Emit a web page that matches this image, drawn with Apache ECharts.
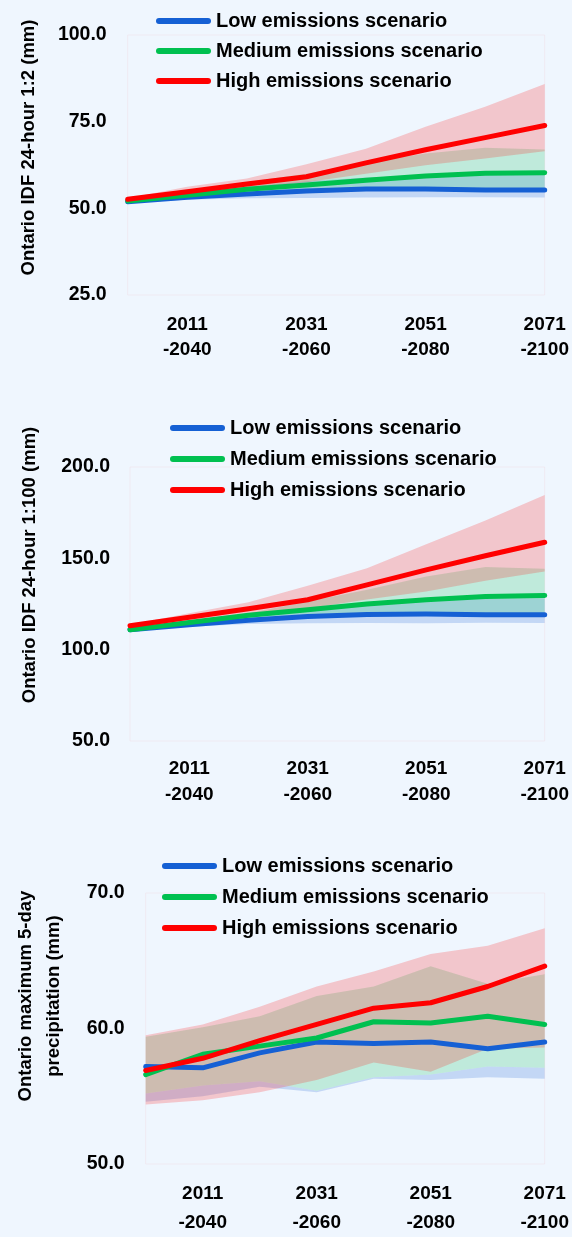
<!DOCTYPE html>
<html>
<head>
<meta charset="utf-8">
<title>Ontario precipitation projections</title>
<script src="https://cdn.jsdelivr.net/npm/echarts@6/dist/echarts.min.js"></script>
<style>
  html, body { margin: 0; padding: 0; background: #eff6fe; }
  .panel { position: absolute; left: 0; width: 572px; }
  #idf2 { top: 0; height: 400px; }
  #idf100 { top: 400px; height: 420px; }
  #max5 { top: 820px; height: 417px; }
</style>
</head>
<body>
<div id="idf2" class="panel"></div>
<div id="idf100" class="panel"></div>
<div id="max5" class="panel"></div>
<script>
// 30-year projection windows
const periods = ['2001-2030', '2011-2040', '2021-2050', '2031-2060',
                 '2041-2070', '2051-2080', '2061-2090', '2071-2100'];
const scenarios = ['Low emissions scenario', 'Medium emissions scenario', 'High emissions scenario'];

// IDF 24-hour 1:2 (mm)
const idf2Low     = [51.9, 53.2, 54.1, 55.0, 55.6, 55.6, 55.3, 55.3];
const idf2LowMin  = [51.6, 52.5, 52.9, 53.0, 53.1, 53.2, 53.2, 53.1];
const idf2LowMax  = [52.3, 54.4, 56.2, 57.8, 58.9, 59.4, 59.6, 59.6];
const idf2Med     = [52.1, 53.8, 55.5, 56.7, 58.1, 59.3, 60.1, 60.3];
const idf2MedMin  = [51.8, 53.0, 54.3, 55.1, 55.5, 55.7, 55.7, 55.7];
const idf2MedMax  = [52.4, 55.0, 57.6, 60.0, 63.3, 65.8, 67.5, 67.0];
const idf2High    = [52.6, 54.8, 57.0, 59.1, 63.1, 66.9, 70.4, 73.9];
const idf2HighMin = [52.0, 53.9, 55.7, 57.5, 60.0, 62.4, 64.4, 66.5];
const idf2HighMax = [52.9, 56.2, 58.6, 62.7, 67.2, 73.5, 79.3, 85.9];
const idf2Ticks   = [25, 100, 25];

// IDF 24-hour 1:100 (mm)
const idf100Low     = [110.9, 113.7, 116.1, 118.2, 119.3, 119.5, 119.1, 119.1];
const idf100LowMin  = [110.3, 112.6, 114.0, 114.4, 114.6, 114.4, 114.8, 114.6];
const idf100LowMax  = [111.5, 114.8, 118.5, 122.5, 125.5, 127.5, 128.0, 128.2];
const idf100Med     = [110.9, 114.9, 118.8, 121.9, 125.0, 127.3, 129.1, 129.7];
const idf100MedMin  = [110.5, 113.3, 115.5, 117.2, 118.4, 118.8, 118.8, 118.8];
const idf100MedMax  = [111.5, 116.0, 120.0, 126.4, 132.8, 140.1, 145.2, 144.3];
const idf100High    = [113.1, 117.7, 122.4, 127.3, 135.5, 143.7, 151.4, 158.8];
const idf100HighMin = [112.5, 115.5, 118.5, 122.5, 127.5, 131.9, 137.7, 142.8];
const idf100HighMax = [113.6, 120.0, 125.9, 135.0, 144.6, 157.7, 170.7, 184.7];
const idf100Ticks   = [50, 200, 50];

// Maximum 5-day precipitation (mm)
const max5Low     = [57.2, 57.1, 58.2, 59.0, 58.9, 59.0, 58.5, 59.0];
const max5LowMin  = [54.6, 55.0, 55.7, 55.3, 56.3, 56.2, 56.4, 56.3];
const max5LowMax  = [55.2, 55.8, 56.1, 55.4, 56.4, 56.6, 57.2, 57.1];
const max5Med     = [56.6, 58.1, 58.7, 59.3, 60.5, 60.4, 60.9, 60.3];
const max5MedMin  = [55.2, 55.8, 56.1, 55.4, 56.4, 56.6, 57.2, 57.1];
const max5MedMax  = [59.4, 60.1, 60.9, 62.4, 63.1, 64.6, 63.3, 64.0];
const max5High    = [56.9, 57.8, 59.1, 60.3, 61.5, 61.9, 63.1, 64.6];
const max5HighMin = [54.4, 54.7, 55.3, 56.2, 57.5, 56.8, 58.5, 58.6];
const max5HighMax = [59.5, 60.3, 61.6, 63.1, 64.2, 65.5, 66.1, 67.4];
const max5Ticks   = [50, 70, 10];

const lineColors = ['#1560d4', '#00c050', '#ff0000'];
const bandColors = ['rgba(21,96,212,0.2)', 'rgba(0,192,80,0.2)', 'rgba(255,20,20,0.21)'];
const FONT = '"Liberation Sans", Arial, sans-serif';
const pill = 'path://M3,0 L52,0 A3,3 0 0 1 52,6 L3,6 A3,3 0 0 1 3,0 Z';

function buildOption(cfg) {
  const series = [];
  // uncertainty ranges: invisible base plus stacked range
  cfg.bands.forEach(function (b, k) {
    const stackId = 'range' + k;
    series.push({
      name: 'range-base-' + k, type: 'line', stack: stackId, data: b[0],
      symbol: 'none', lineStyle: { width: 0, opacity: 0 }, silent: true, z: 1
    });
    series.push({
      name: 'range-' + k, type: 'line', stack: stackId,
      data: b[1].map(function (v, i) { return +(v - b[0][i]).toFixed(2); }),
      symbol: 'none', lineStyle: { width: 0, opacity: 0 },
      areaStyle: { color: bandColors[k], opacity: 1 }, silent: true, z: 1
    });
  });
  cfg.lines.forEach(function (d, k) {
    series.push({
      name: scenarios[k], type: 'line', data: d, symbol: 'none',
      color: lineColors[k],
      lineStyle: { width: 5, color: lineColors[k], cap: 'round', join: 'round' },
      z: 5 + k
    });
  });
  return {
    animation: false,
    backgroundColor: 'transparent',
    grid: Object.assign({ show: true, borderColor: 'rgba(255,0,0,0.05)', borderWidth: 1,
                          backgroundColor: 'transparent' }, cfg.grid),
    legend: {
      data: scenarios, orient: 'vertical', left: cfg.legend.left, top: cfg.legend.top,
      padding: 0, icon: pill, itemWidth: 55, itemHeight: 6, itemGap: cfg.legend.gap,
      selectedMode: false,
      textStyle: { fontFamily: FONT, fontWeight: 'bold', fontSize: 20, color: '#000', lineHeight: 20 }
    },
    xAxis: {
      type: 'category', data: periods, boundaryGap: false,
      axisLine: { show: false }, axisTick: { show: false }, splitLine: { show: false },
      axisLabel: {
        interval: function (i) { return i % 2 === 1; },
        formatter: function (v) { return v.replace('-', '\n-'); },
        fontFamily: FONT, fontWeight: 'bold', fontSize: 19, color: '#000',
        lineHeight: cfg.xLineHeight, margin: cfg.xMargin
      }
    },
    yAxis: {
      type: 'value', min: cfg.ticks[0], max: cfg.ticks[1], interval: cfg.ticks[2],
      axisLine: { show: false }, axisTick: { show: false }, splitLine: { show: false },
      axisLabel: {
        formatter: function (v) { return v.toFixed(1); },
        fontFamily: FONT, fontWeight: 'bold', fontSize: 19.5, color: '#000', margin: cfg.yMargin
      }
    },
    graphic: cfg.names.map(function (n) {
      return {
        type: 'text', x: n.x, y: n.y, rotation: Math.PI / 2,
        style: { text: n.text, fontFamily: FONT, fontWeight: 'bold', fontSize: 18.5,
                 fill: '#000', align: 'center', verticalAlign: 'middle' }
      };
    }),
    series: series
  };
}

const panels = [
  {
    el: 'idf2',
    grid: { left: 127.7, right: 24.3, top: 35, bottom: 105 },
    legend: { left: 156, top: 11, gap: 10 },
    ticks: idf2Ticks, yMargin: 21, xMargin: 17, xLineHeight: 25,
    names: [{ text: 'Ontario IDF 24-hour 1:2 (mm)', x: 29, y: 147.5 }],
    lines: [idf2Low, idf2Med, idf2High],
    bands: [[idf2LowMin, idf2LowMax], [idf2MedMin, idf2MedMax], [idf2HighMin, idf2HighMax]]
  },
  {
    el: 'idf100',
    grid: { left: 130, right: 24.3, top: 67, bottom: 79 },
    legend: { left: 170, top: 18, gap: 11 },
    ticks: idf100Ticks, yMargin: 20, xMargin: 15, xLineHeight: 26,
    names: [{ text: 'Ontario IDF 24-hour 1:100 (mm)', x: 30, y: 165 }],
    lines: [idf100Low, idf100Med, idf100High],
    bands: [[idf100LowMin, idf100LowMax], [idf100MedMin, idf100MedMax], [idf100HighMin, idf100HighMax]]
  },
  {
    el: 'max5',
    grid: { left: 145.7, right: 24.3, top: 73, bottom: 65 },
    legend: { left: 162, top: 36, gap: 11 },
    ticks: max5Ticks, yMargin: 21, xMargin: 15, xLineHeight: 29,
    names: [{ text: 'Ontario maximum 5-day', x: 26, y: 176 },
            { text: 'precipitation (mm)', x: 54, y: 176 }],
    lines: [max5Low, max5Med, max5High],
    bands: [[max5LowMin, max5LowMax], [max5MedMin, max5MedMax], [max5HighMin, max5HighMax]]
  }
];

panels.forEach(function (p) {
  const chart = echarts.init(document.getElementById(p.el), null, { renderer: 'canvas' });
  chart.setOption(buildOption(p));
});
</script>
</body>
</html>
